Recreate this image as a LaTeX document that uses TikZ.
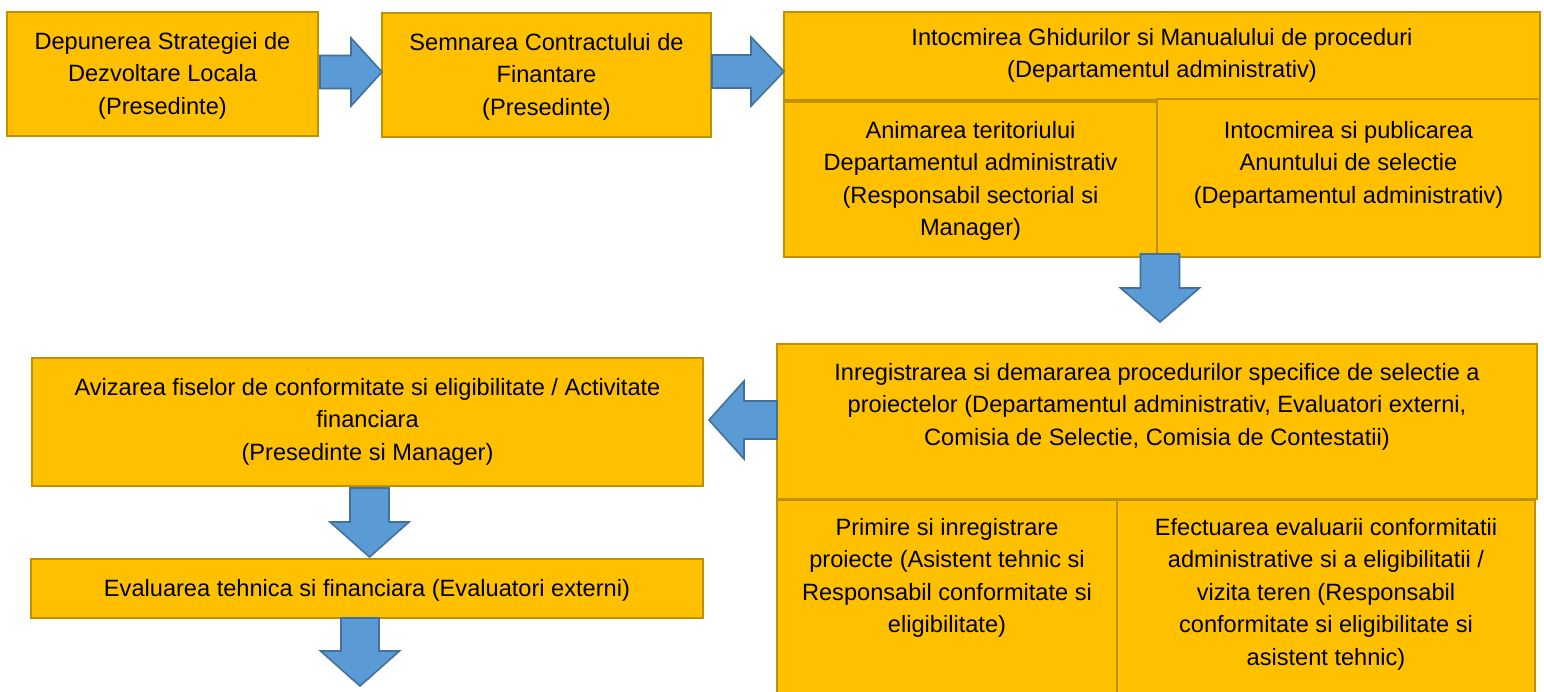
\documentclass[tikz,border=0pt]{standalone}
\usepackage{fontspec}
\setmainfont{Liberation Sans}
\usetikzlibrary{fit,calc}
\definecolor{boxfill}{HTML}{FFC000}
\definecolor{boxline}{HTML}{BF9000}
\definecolor{arrfill}{HTML}{5B9BD5}
\definecolor{arrline}{HTML}{41719C}
\tikzset{
  box/.style={draw=boxline, fill=boxfill, line width=2pt, inner sep=0pt, outer sep=0pt},
  txt/.style={anchor=north, align=center, inner sep=0pt, font=\fontsize{23.6}{32.5}\selectfont},
  blockarrow/.style={draw=arrline, fill=arrfill, line width=1.6pt, line join=miter}
}
% horizontal block arrow: #1 start, #2 tip, #3 shaft half width, #4 head half width, #5 signed offset tip->head base
\newcommand\blockH[5]{\draw[blockarrow] ($(#1)+(0,#3)$) -- ($(#2)+(#5,#3)$) -- ($(#2)+(#5,#4)$) -- (#2) -- ($(#2)+(#5,-#4)$) -- ($(#2)+(#5,-#3)$) -- ($(#1)+(0,-#3)$) -- cycle;}
% vertical block arrow
\newcommand\blockV[5]{\draw[blockarrow] ($(#1)+(#3,0)$) -- ($(#2)+(#3,#5)$) -- ($(#2)+(#4,#5)$) -- (#2) -- ($(#2)+(-#4,#5)$) -- ($(#2)+(-#3,#5)$) -- ($(#1)+(-#3,0)$) -- cycle;}
\begin{document}
\begin{tikzpicture}[x=1pt,y=-1pt]
\clip (0,0) rectangle (1544,692);
\fill[white] (0,0) rectangle (1544,692);
% boxes
\node[box, fit={(7,12) (318,136)}] (b1) {};
\node[box, fit={(382,13) (711,137)}] (b2) {};
\node[box, fit={(784,12) (1540,100)}] (b3) {};
\node[box, fit={(784,102) (1157,257)}] (b3a) {};
\node[box, fit={(1157,99) (1540,257)}] (b3b) {};
\node[box, fit={(777,344) (1537,499)}] (b4) {};
\node[box, fit={(777,500) (1117,710)}] (b4a) {};
\node[box, fit={(1117,500) (1535,710)}] (b4b) {};
\node[box, fit={(32,358) (703,486)}] (b5) {};
\node[box, fit={(31,559) (703,618)}] (b6) {};
% texts
\node[txt] (t1) at ($(b1.north)+(0,20)$) {Depunerea Strategiei de\\Dezvoltare Locala\\(Presedinte)};
\node[txt] (t2) at ($(b2.north)+(0,20)$) {Semnarea Contractului de\\Finantare\\(Presedinte)};
\node[txt] (t3) at ($(b3.north)+(0,16)$) {Intocmirea Ghidurilor si Manualului de proceduri\\(Departamentul administrativ)};
\node[txt] (t3a) at ($(b3a.north)+(0,19)$) {Animarea teritoriului\\Departamentul administrativ\\(Responsabil sectorial si\\Manager)};
\node[txt] (t3b) at ($(b3b.north)+(0,22)$) {Intocmirea si publicarea\\Anuntului de selectie\\(Departamentul administrativ)};
\node[txt] (t4) at ($(b4.north)+(0,19)$) {Inregistrarea si demararea procedurilor specifice de selectie a\\proiectelor (Departamentul administrativ, Evaluatori externi,\\Comisia de Selectie, Comisia de Contestatii)};
\node[txt] (t4a) at ($(b4a.north)+(0,18)$) {Primire si inregistrare\\proiecte (Asistent tehnic si\\Responsabil conformitate si\\eligibilitate)};
\node[txt] (t4b) at ($(b4b.north)+(0,18)$) {Efectuarea evaluarii conformitatii\\administrative si a eligibilitatii /\\vizita teren (Responsabil\\conformitate si eligibilitate si\\asistent tehnic)};
\node[txt] (t5) at ($(b5.north)+(0,20)$) {Avizarea fiselor de conformitate si eligibilitate / Activitate\\financiara\\(Presedinte si Manager)};
\node[txt] (t6) at ($(b6.north)+(0,20)$) {Evaluarea tehnica si financiara (Evaluatori externi)};
% arrow end points
\coordinate (a1s) at ($(b1.east)+(2,-2)$);
\coordinate (a1t) at (a1s -| b2.west);
\coordinate (a2s) at ($(b2.east)+(1,-3.5)$);
\coordinate (a2t) at (a2s -| b3.west);
\coordinate (a3s) at ($(b3a.south east)+(3,-3)$);
\coordinate (a3t) at (1160,322);
\coordinate (a4s) at ($(b4.west)+(0,-1.5)$);
\coordinate (a4t) at ($(a4s -| b5.east)+(6,0)$);
\coordinate (a5s) at ($(b5.south)+(2,2)$);
\coordinate (a5t) at ($(a5s |- b6.north)+(0,-2)$);
\coordinate (a6s) at ($(b6.south)+(-7,0)$);
\coordinate (a6t) at (360,686);
% arrows
\blockH{a1s}{a1t}{16.5}{34}{-31}
\blockH{a2s}{a2t}{16.5}{34.5}{-33}
\blockV{a3s}{a3t}{19.5}{39.5}{-34}
\blockH{a4s}{a4t}{19}{39}{35}
\blockV{a5s}{a5t}{19.5}{39.5}{-35}
\blockV{a6s}{a6t}{19}{39.5}{-35}
\end{tikzpicture}
\end{document}
